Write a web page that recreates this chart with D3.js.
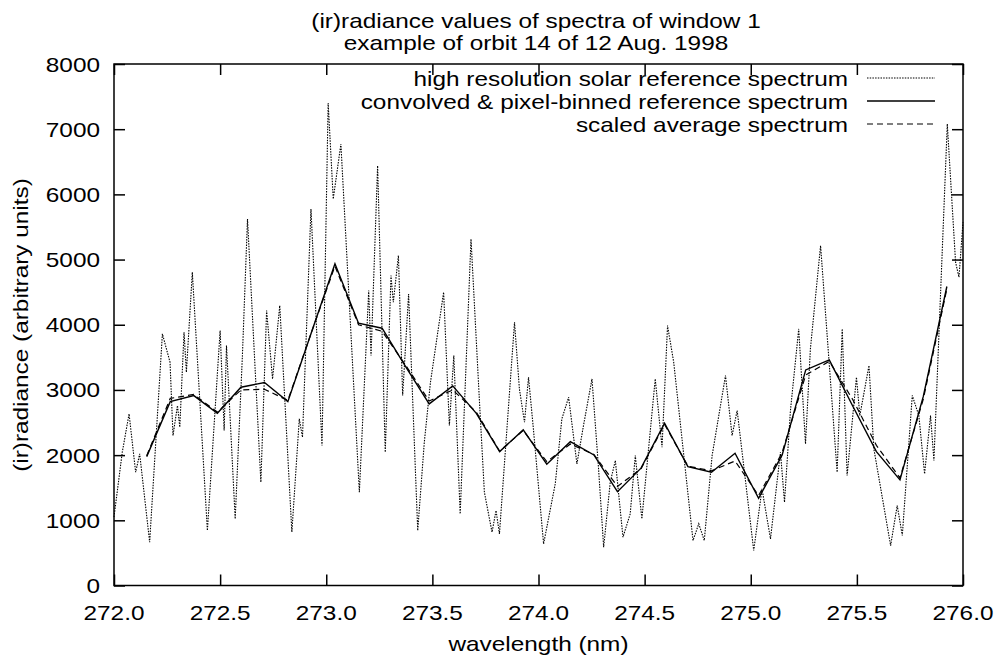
<!DOCTYPE html>
<html>
<head>
<meta charset="utf-8">
<script src="https://cdn.jsdelivr.net/npm/d3@7"></script>
<style>
  body { margin: 0; background: #fff; }
  text { font-family: "Liberation Sans", Arial, sans-serif; font-size: 21px; fill: #000; }
</style>
</head>
<body>
<div id="chart"></div>
<script>
// high resolution solar reference spectrum (wavelength nm, value)
var hiresWl = [272.000, 272.039, 272.071, 272.102, 272.121, 272.168, 272.228, 272.264, 272.278, 272.299,
  272.310, 272.330, 272.341, 272.369, 272.440, 272.500, 272.519, 272.530, 272.571, 272.605,
  272.629, 272.692, 272.719, 272.747, 272.781, 272.838, 272.873, 272.888, 272.928, 272.980,
  273.009, 273.033, 273.069, 273.156, 273.200, 273.211, 273.242, 273.278, 273.305, 273.316,
  273.340, 273.360, 273.388, 273.431, 273.462, 273.491, 273.553, 273.580, 273.601, 273.631,
  273.682, 273.722, 273.745, 273.781, 273.800, 273.816, 273.887, 273.910, 273.934, 273.953,
  273.976, 274.024, 274.079, 274.110, 274.142, 274.181, 274.212, 274.252, 274.283, 274.307,
  274.338, 274.362, 274.398, 274.432, 274.456, 274.487, 274.550, 274.582, 274.608, 274.637,
  274.728, 274.755, 274.781, 274.818, 274.881, 274.912, 274.936, 275.014, 275.053, 275.093,
  275.140, 275.159, 275.187, 275.226, 275.258, 275.281, 275.329, 275.360, 275.407, 275.431,
  275.454, 275.498, 275.514, 275.557, 275.580, 275.659, 275.690, 275.714, 275.761, 275.792,
  275.819, 275.847, 275.863, 275.926, 275.965, 275.981, 276.000];
var hiresVal = [1050, 2045, 2633, 1738, 2019, 665, 3860, 3425, 2300, 2760,
  2428, 3885, 3272, 4805, 843, 3911, 2377, 3681, 1022, 3527,
  5623, 1585, 4217, 3169, 4294, 818, 2556, 2275, 5777, 2147,
  7402, 5930, 6773, 1431, 4524, 3527, 6441, 2045, 4754, 4345,
  5061, 2914, 4473, 843, 2198, 3118, 4499, 2454, 3527, 1099,
  5316, 2812, 1431, 818, 1150, 792, 4038, 3016, 2505, 3195,
  2400, 639, 1560, 2556, 2888, 1866, 2454, 3169, 1789, 588,
  1585, 1917, 741, 1099, 1994, 1022, 3169, 2121, 3987, 3425,
  690, 946, 690, 1994, 3220, 2300, 2684, 537, 1482, 716,
  2045, 1278, 2684, 3936, 2173, 3630, 5214, 3834, 1738, 3936,
  1687, 3195, 2607, 3374, 2096, 613, 1227, 767, 2914, 2607,
  1713, 2607, 1917, 7080, 4959, 4729, 5572];

// convolved & pixel-binned reference spectrum, one value per detector pixel
var pixelWl = [272.154, 272.265, 272.376, 272.487, 272.598, 272.709, 272.819, 272.930, 273.041, 273.152,
  273.263, 273.374, 273.485, 273.596, 273.707, 273.817, 273.928, 274.039, 274.150, 274.261,
  274.372, 274.483, 274.594, 274.704, 274.815, 274.926, 275.037, 275.148, 275.259, 275.370,
  275.481, 275.592, 275.703, 275.813, 275.924];
var convolvedVal = [1977, 2821, 2913, 2643, 3042, 3113, 2821, 3880, 4935, 4024,
  3947, 3358, 2786, 3062, 2640, 2054, 2387, 1860, 2207, 2003,
  1440, 1800, 2490, 1824, 1737, 2028, 1338, 2003, 3307, 3460,
  2750, 2054, 1620, 2900, 4587];
// scaled average spectrum
var averageVal = [1990, 2870, 2930, 2660, 3000, 3010, 2840, 3880, 4900, 4000,
  3900, 3380, 2830, 3000, 2660, 2060, 2380, 1900, 2170, 2010,
  1520, 1790, 2470, 1830, 1760, 1910, 1380, 2040, 3230, 3440,
  2850, 2150, 1650, 2860, 4550];

var xTicks = [272.0, 272.5, 273.0, 273.5, 274.0, 274.5, 275.0, 275.5, 276.0];
var yTicks = [0, 1000, 2000, 3000, 4000, 5000, 6000, 7000, 8000];
var titleLines = ["(ir)radiance values of spectra of window 1", "example of orbit 14 of 12 Aug. 1998"];
var legendLabels = ["high resolution solar reference spectrum",
  "convolved & pixel-binned reference spectrum",
  "scaled average spectrum"];

var svgWidth = 998;
var svgHeight = 661;
var margin = { top: 64, right: 35, bottom: 75.5, left: 114 };
var width = svgWidth - margin.left - margin.right;
var height = svgHeight - margin.top - margin.bottom;
var sx = 1.16; // the glyphs in the original are a bit wider than Arial

var svg = d3.select("#chart").append("svg")
  .attr("width", svgWidth)
  .attr("height", svgHeight);
svg.append("rect").attr("width", svgWidth).attr("height", svgHeight).attr("fill", "#fff");

// stretched text helper
function label(parent, x, y, str, anchor, rotate) {
  return parent.append("text")
    .attr("transform", `translate(${x},${y})` + (rotate ? ` rotate(${rotate})` : "") + ` scale(${sx},1)`)
    .attr("text-anchor", anchor || "start")
    .text(str);
}

var chartGroup = svg.append("g")
  .attr("transform", `translate(${margin.left}, ${margin.top})`);

var xScale = d3.scaleLinear().domain([272, 276]).range([0, width]);
var yScale = d3.scaleLinear().domain([0, 8000]).range([height, 0]);

// ticks on all four sides, pointing inward
var tickLen = 11;
var axisStyle = g => {
  g.select(".domain").remove();
  g.selectAll("line").attr("stroke", "#000").attr("stroke-width", 1.5);
  g.selectAll("text").remove();
};
chartGroup.append("g").attr("transform", `translate(0,${height})`)
  .call(d3.axisTop(xScale).tickValues(xTicks).tickSize(tickLen)).call(axisStyle);
chartGroup.append("g")
  .call(d3.axisBottom(xScale).tickValues(xTicks).tickSize(tickLen)).call(axisStyle);
chartGroup.append("g")
  .call(d3.axisRight(yScale).tickValues(yTicks).tickSize(tickLen)).call(axisStyle);
chartGroup.append("g").attr("transform", `translate(${width},0)`)
  .call(d3.axisLeft(yScale).tickValues(yTicks).tickSize(tickLen)).call(axisStyle);

// tick labels
xTicks.forEach(function(t) {
  label(chartGroup, xScale(t), height + 34, d3.format(".1f")(t), "middle");
});
yTicks.forEach(function(t) {
  label(chartGroup, -14, yScale(t) + 7.5, String(t), "end");
});

// lines
var hires = hiresWl.map((w, i) => [w, hiresVal[i]]);
var conv = pixelWl.map((w, i) => [w, convolvedVal[i]]);
var avg = pixelWl.map((w, i) => [w, averageVal[i]]);
var line = d3.line().x(d => xScale(d[0])).y(d => yScale(d[1]));

var styles = [
  { dash: "1.5,1.2", w: 1.1 },
  { dash: null, w: 1.4 },
  { dash: "6,4", w: 1.2 }
];
[hires, conv, avg].forEach(function(data, i) {
  chartGroup.append("path")
    .datum(data)
    .attr("fill", "none")
    .attr("stroke", "#000")
    .attr("stroke-width", styles[i].w)
    .attr("stroke-dasharray", styles[i].dash)
    .attr("d", line);
});

// border
chartGroup.append("rect")
  .attr("width", width).attr("height", height)
  .attr("fill", "none").attr("stroke", "#000").attr("stroke-width", 1.5);

// legend
legendLabels.forEach(function(txt, i) {
  var y = 14 + i * 23;
  label(chartGroup, 734, y + 7.5, txt, "end");
  chartGroup.append("line")
    .attr("x1", 753).attr("x2", 821)
    .attr("y1", y).attr("y2", y)
    .attr("stroke", "#000")
    .attr("stroke-width", styles[i].w)
    .attr("stroke-dasharray", styles[i].dash);
});

// titles and axis labels
titleLines.forEach(function(t, i) {
  label(svg, 536, 28 + i * 22, t, "middle");
});
label(svg, margin.left + width / 2, 651, "wavelength (nm)", "middle");
label(svg, 28, 325, "(ir)radiance (arbitrary units)", "middle", -90);
</script>
</body>
</html>
